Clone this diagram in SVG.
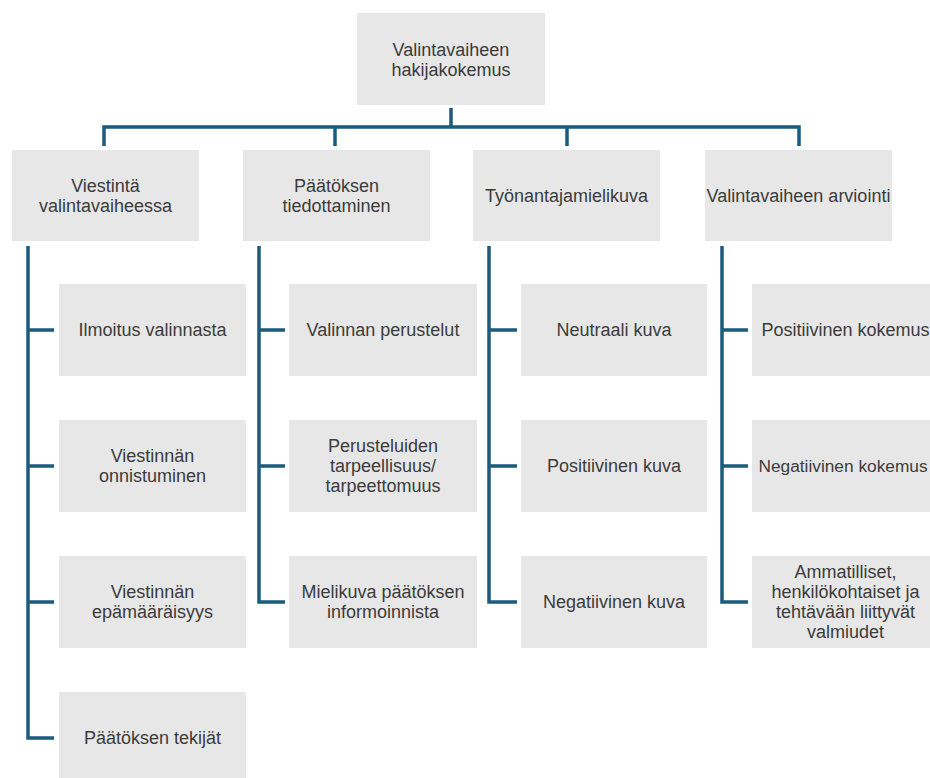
<svg xmlns="http://www.w3.org/2000/svg" width="930" height="778" viewBox="0 0 930 778">
  <style>
    .box { fill: #e7e7e7; }
    .lbl { font-family: "Liberation Sans", Arial, sans-serif; font-size: 18px; fill: #3b3b3b; text-anchor: middle; }
    .tight { font-size: 17.3px; }
    .link { fill: none; stroke: #1b5b7c; stroke-width: 3.5; stroke-linecap: butt; stroke-linejoin: miter; }
  </style>
  <rect width="930" height="778" fill="#ffffff"/>

  <!-- connectors -->
  <g id="connectors">
    <path class="link" d="M451 108 V127"/>
    <path class="link" d="M104 146 V127 H799 V146"/>
    <path class="link" d="M335 127 V146"/>
    <path class="link" d="M567 127 V146"/>
    <!-- column 1 -->
    <path class="link" d="M28 246 V738 H54"/>
    <path class="link" d="M28 330 H54 M28 466 H54 M28 602 H54"/>
    <!-- column 2 -->
    <path class="link" d="M259 246 V602 H285"/>
    <path class="link" d="M259 330 H285 M259 466 H285"/>
    <!-- column 3 -->
    <path class="link" d="M489 246 V602 H517"/>
    <path class="link" d="M489 330 H517 M489 466 H517"/>
    <!-- column 4 -->
    <path class="link" d="M722 246 V602 H748"/>
    <path class="link" d="M722 330 H748 M722 466 H748"/>
  </g>

  <!-- root -->
  <g id="root">
    <rect class="box" x="357" y="13" width="188" height="92"/>
    <text class="lbl" x="451" y="55.5">Valintavaiheen</text>
    <text class="lbl" x="451" y="75.5">hakijakokemus</text>
  </g>

  <!-- level 1 -->
  <g id="viestinta">
    <rect class="box" x="12" y="150" width="187" height="91"/>
    <text class="lbl" x="105.5" y="192">Viestintä</text>
    <text class="lbl" x="105.5" y="212">valintavaiheessa</text>
  </g>
  <g id="paatoksen-tiedottaminen">
    <rect class="box" x="243" y="150" width="187" height="91"/>
    <text class="lbl" x="336.5" y="192">Päätöksen</text>
    <text class="lbl" x="336.5" y="212">tiedottaminen</text>
  </g>
  <g id="tyonantajamielikuva">
    <rect class="box" x="473" y="150" width="187" height="91"/>
    <text class="lbl" x="566.5" y="202">Työnantajamielikuva</text>
  </g>
  <g id="arviointi">
    <rect class="box" x="705" y="150" width="187" height="91"/>
    <text class="lbl" x="798.5" y="202">Valintavaiheen arviointi</text>
  </g>

  <!-- column 1 children -->
  <g id="ilmoitus">
    <rect class="box" x="59" y="284" width="187" height="92"/>
    <text class="lbl" x="152.5" y="336">Ilmoitus valinnasta</text>
  </g>
  <g id="onnistuminen">
    <rect class="box" x="59" y="420" width="187" height="92"/>
    <text class="lbl" x="152.5" y="462">Viestinnän</text>
    <text class="lbl" x="152.5" y="482">onnistuminen</text>
  </g>
  <g id="epamaaraisyys">
    <rect class="box" x="59" y="556" width="187" height="92"/>
    <text class="lbl" x="152.5" y="598">Viestinnän</text>
    <text class="lbl" x="152.5" y="618">epämääräisyys</text>
  </g>
  <g id="tekijat">
    <rect class="box" x="59" y="692" width="187" height="92"/>
    <text class="lbl" x="152.5" y="744">Päätöksen tekijät</text>
  </g>

  <!-- column 2 children -->
  <g id="perustelut">
    <rect class="box" x="289" y="284" width="188" height="92"/>
    <text class="lbl" x="383" y="336">Valinnan perustelut</text>
  </g>
  <g id="tarpeellisuus">
    <rect class="box" x="289" y="420" width="188" height="92"/>
    <text class="lbl" x="383" y="452">Perusteluiden</text>
    <text class="lbl" x="383" y="472">tarpeellisuus/</text>
    <text class="lbl" x="383" y="492">tarpeettomuus</text>
  </g>
  <g id="mielikuva">
    <rect class="box" x="289" y="556" width="188" height="92"/>
    <text class="lbl" x="383" y="598">Mielikuva päätöksen</text>
    <text class="lbl" x="383" y="618">informoinnista</text>
  </g>

  <!-- column 3 children -->
  <g id="neutraali">
    <rect class="box" x="521" y="284" width="186" height="92"/>
    <text class="lbl" x="614" y="336">Neutraali kuva</text>
  </g>
  <g id="positiivinen-kuva">
    <rect class="box" x="521" y="420" width="186" height="92"/>
    <text class="lbl" x="614" y="472">Positiivinen kuva</text>
  </g>
  <g id="negatiivinen-kuva">
    <rect class="box" x="521" y="556" width="186" height="92"/>
    <text class="lbl" x="614" y="608">Negatiivinen kuva</text>
  </g>

  <!-- column 4 children -->
  <g id="positiivinen-kokemus">
    <rect class="box" x="752" y="284" width="187" height="92"/>
    <text class="lbl" x="845.5" y="336">Positiivinen kokemus</text>
  </g>
  <g id="negatiivinen-kokemus">
    <rect class="box" x="752" y="420" width="187" height="92"/>
    <text class="lbl tight" x="843" y="472">Negatiivinen kokemus</text>
  </g>
  <g id="valmiudet">
    <rect class="box" x="752" y="556" width="187" height="92"/>
    <text class="lbl" x="845.5" y="578">Ammatilliset,</text>
    <text class="lbl" x="845.5" y="598">henkilökohtaiset ja</text>
    <text class="lbl" x="845.5" y="618">tehtävään liittyvät</text>
    <text class="lbl" x="845.5" y="638">valmiudet</text>
  </g>
</svg>
